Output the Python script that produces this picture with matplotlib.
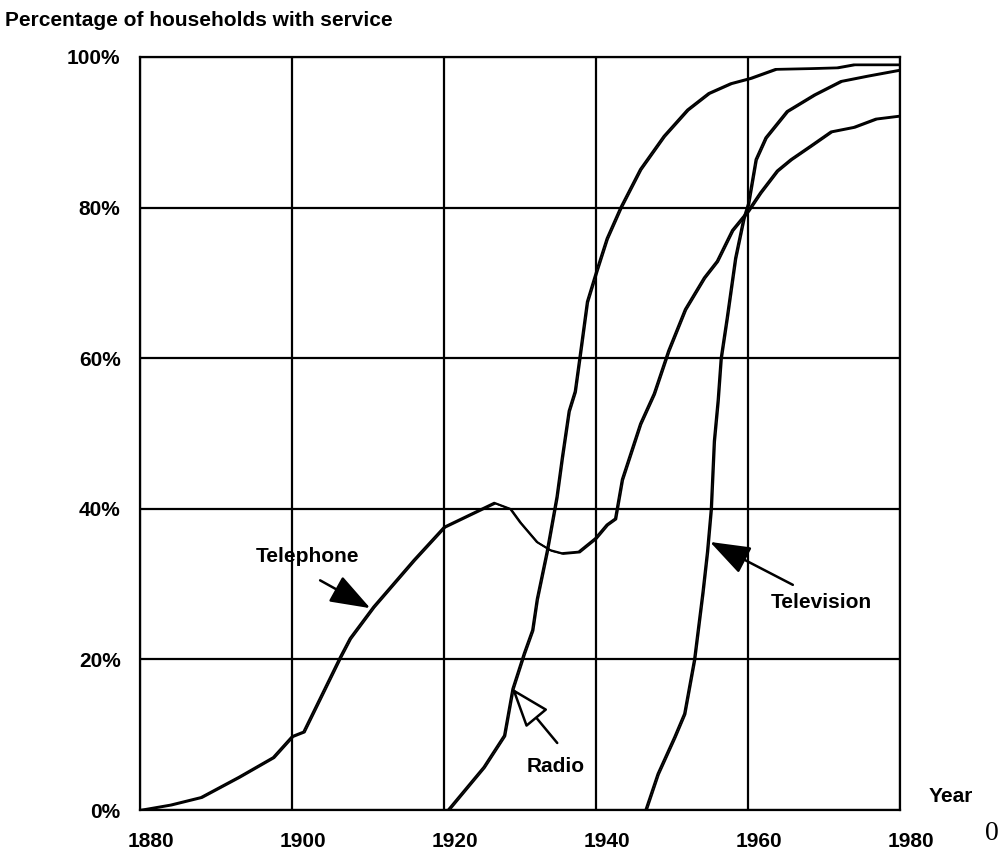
import matplotlib
matplotlib.use("Agg")
import matplotlib.pyplot as plt
from matplotlib.transforms import ScaledTranslation, offset_copy

# data (year, % of households)
tel_years = [1880, 1884, 1888, 1893, 1897.5, 1900, 1901.5, 1906.3, 1907.6, 1910.7, 1916,
             1920, 1926.6, 1928.7, 1930, 1932.2, 1934, 1935.5, 1937.7, 1939.9, 1941.4,
             1942.5, 1943.4, 1945.8, 1947.6, 1949.5, 1951.7, 1954.2, 1955.9, 1957.9,
             1960, 1961.6, 1963.8, 1965.6, 1968.2, 1970.9, 1973.9, 1976.8, 1980]
tel_pct = [0, 0.7, 1.7, 4.4, 7.0, 9.8, 10.4, 20.3, 22.8, 27, 33.2,
           37.6, 40.8, 40, 38.2, 35.6, 34.5, 34.1, 34.3, 36.1, 37.9,
           38.7, 43.9, 51.3, 55.3, 61, 66.5, 70.7, 72.9, 77,
           79.6, 82, 84.9, 86.4, 88.2, 90.1, 90.7, 91.8, 92.2]

radio_years = [1920.5, 1925.2, 1927.9, 1929, 1930.5, 1931.6, 1932.2, 1933.5, 1934.8,
               1935.5, 1936.4, 1937.2, 1937.8, 1938.8, 1940.1, 1941.4, 1943.2, 1945.8,
               1948.9, 1952, 1954.8, 1957.7, 1960.3, 1963.6, 1968.2, 1971.7, 1973.9, 1980]
radio_pct = [0, 5.7, 9.9, 16.1, 20.8, 23.9, 28, 34.3, 41.6,
             46.8, 53, 55.6, 60, 67.5, 71.8, 75.9, 80, 85.1,
             89.5, 93, 95.2, 96.5, 97.2, 98.4, 98.5, 98.6, 99, 99]

tv_years = [1946.5, 1948.1, 1950.3, 1951.6, 1952.9, 1954, 1954.6, 1955.1, 1955.5, 1956,
            1956.4, 1957.2, 1958.3, 1959.4, 1960, 1961, 1962.3, 1965.1, 1968.7, 1972.2,
            1975.7, 1980]
tv_pct = [0, 4.8, 9.7, 12.8, 20, 28.9, 34.3, 40, 49, 54.4,
          60, 65.4, 73.3, 78.6, 80.5, 86.4, 89.3, 92.8, 95, 96.8,
          97.5, 98.3]

x_ticks = [1880, 1900, 1920, 1940, 1960, 1980]
y_ticks = [0, 20, 40, 60, 80, 100]
y_labels = ["0%", "20%", "40%", "60%", "80%", "100%"]

plt.rcParams['font.family'] = ['Liberation Sans', 'DejaVu Sans']
plt.rcParams['font.weight'] = 'bold'
FS = 15

fig = plt.figure(figsize=(9.99, 8.58), dpi=100)
ax = fig.add_axes([140 / 999, 1 - 810 / 858, 760 / 999, 753 / 858])

# each curve is drawn twice, slightly offset, like the original double stroke
for xs, ys in [(tel_years, tel_pct), (radio_years, radio_pct), (tv_years, tv_pct)]:
    ax.plot(xs, ys, color='black', lw=1.5, zorder=3)
    shifted = offset_copy(ax.transData, fig=fig, x=1.0, y=-0.6, units='points')
    ax.plot(xs, ys, color='black', lw=1.2, transform=shifted, zorder=3)

ax.set_xlim(1880, 1980)
ax.set_ylim(0, 100)
ax.set_xticks(x_ticks)
ax.set_xticklabels([str(v) for v in x_ticks])
ax.set_yticks(y_ticks)
ax.set_yticklabels(y_labels)
ax.tick_params(length=0, labelsize=FS, pad=0)
ax.tick_params(axis='y', pad=14)
ax.tick_params(axis='x', pad=16)
for lab in ax.get_xticklabels():
    lab.set_transform(lab.get_transform() + ScaledTranslation(0.11, 0, fig.dpi_scale_trans))

ax.grid(True, color='black', lw=1.6)
for s in ax.spines.values():
    s.set_linewidth(1.6)
    s.set_color('black')

fig.text(5 / 999, 1 - 20 / 858, "Percentage of households with service",
         fontsize=FS, fontweight='bold', va='center', ha='left')
fig.text(929 / 999, 1 - 797 / 858, "Year", fontsize=FS, fontweight='bold',
         va='center', ha='left')
fig.text(985 / 999, 1 - 833 / 858, "0", fontsize=20, fontweight='normal',
         family='Liberation Serif', va='center', ha='left')

solid = dict(arrowstyle='-|>,head_length=1.25,head_width=0.45', mutation_scale=20,
             lw=1.8, color='black', fc='black', shrinkA=0, shrinkB=0)
hollow = dict(arrowstyle='-|>,head_length=1.25,head_width=0.45', mutation_scale=20,
              lw=1.8, ec='black', fc='white', shrinkA=0, shrinkB=0)

ax.annotate("", xy=(1910.3, 26.8), xytext=(1903.7, 30.5), arrowprops=solid, zorder=4)
ax.text(1902.0, 33.6, "Telephone", fontsize=FS, fontweight='bold', ha='center', va='center')

ax.annotate("", xy=(1928.9, 16.2), xytext=(1934.9, 8.9), arrowprops=hollow, zorder=4)
ax.text(1934.7, 5.8, "Radio", fontsize=FS, fontweight='bold', ha='center', va='center')

ax.annotate("", xy=(1955.0, 35.6), xytext=(1965.9, 29.9), arrowprops=solid, zorder=4)
ax.text(1969.6, 27.5, "Television", fontsize=FS, fontweight='bold', ha='center', va='center')

fig.savefig('out.png', dpi=100)
